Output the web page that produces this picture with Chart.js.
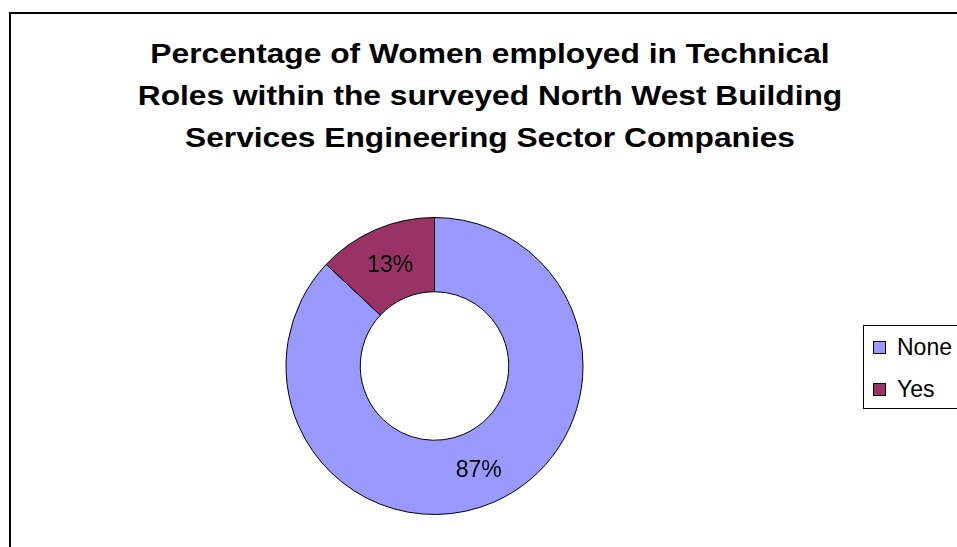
<!DOCTYPE html>
<html>
<head>
<meta charset="utf-8">
<script src="https://cdn.jsdelivr.net/npm/chart.js@4.4.1/dist/chart.umd.min.js"></script>
<style>
  html, body { margin: 0; padding: 0; background: #fff; overflow: hidden; }
  body { width: 957px; height: 547px; position: relative; font-family: Arial, "Liberation Sans", sans-serif; }
  .frame { position: absolute; left: 9px; top: 12px; width: 1000px; height: 600px; border: 2px solid #000; }
  .title { position: absolute; left: 90px; width: 800px; top: 33px; text-align: center;
           font-weight: bold; font-size: 27px; line-height: 42px; color: #000;
           transform: scaleX(1.175); transform-origin: 50% 0; }
  #chart { position: absolute; left: 0; top: 0; }
  .legend { position: absolute; left: 863px; top: 325px; width: 150px; height: 82px; border: 1px solid #000; background: #fff; }
  .legend-item { position: absolute; left: 9px; height: 26px; font-size: 23px; line-height: 26px; color: #000; white-space: nowrap; }
  .legend-swatch { position: absolute; left: 0; top: 7px; width: 11px; height: 11px; border: 1px solid #000; }
  .legend-label { position: absolute; left: 24px; top: 0; }
</style>
</head>
<body>
<div class="frame"></div>
<div class="title">Percentage of Women employed in Technical<br>Roles within the surveyed North West Building<br>Services Engineering Sector Companies</div>
<canvas id="chart" width="957" height="547"></canvas>
<div class="legend" id="legend"></div>

<script>
const categories = ['None', 'Yes'];
const shares = [87, 13]; // percent of companies
const sliceColors = ['#9999FF', '#993366'];

document.addEventListener('DOMContentLoaded', () => {
  // Percentage labels in the middle of each ring segment
  const sliceLabels = {
    id: 'sliceLabels',
    afterDatasetsDraw(chart) {
      const ctx = chart.ctx;
      const meta = chart.getDatasetMeta(0);
      ctx.save();
      ctx.font = '23px Arial, "Liberation Sans", sans-serif';
      ctx.fillStyle = '#000';
      ctx.textAlign = 'center';
      ctx.textBaseline = 'middle';
      meta.data.forEach((arc, i) => {
        const pos = arc.tooltipPosition();
        ctx.fillText(shares[i] + '%', pos.x, pos.y + 2);
      });
      ctx.restore();
    }
  };

  const chartCanvas = document.getElementById('chart');
  if (chartCanvas) {
    new Chart(chartCanvas, {
      type: 'doughnut',
      data: {
        labels: categories,
        datasets: [{
          data: shares,
          backgroundColor: sliceColors,
          borderColor: '#000',
          borderWidth: 1,
        }],
      },
      options: {
        responsive: false,
        animation: false,
        cutout: '50%',
        layout: {
          padding: { left: 285, right: 373, top: 217, bottom: 32 },
        },
        plugins: {
          legend: { display: false },
          title: { display: false },
          tooltip: { enabled: false },
        },
      },
      plugins: [sliceLabels],
    });
  }

  // Legend box on the right
  const legend = document.getElementById('legend');
  categories.forEach((name, i) => {
    const item = document.createElement('div');
    item.className = 'legend-item';
    item.style.top = (8 + i * 42) + 'px';
    item.innerHTML = '<span class="legend-swatch" style="background:' + sliceColors[i] + '"></span>' +
                     '<span class="legend-label">' + name + '</span>';
    legend.appendChild(item);
  });
});
</script>
</body>
</html>
